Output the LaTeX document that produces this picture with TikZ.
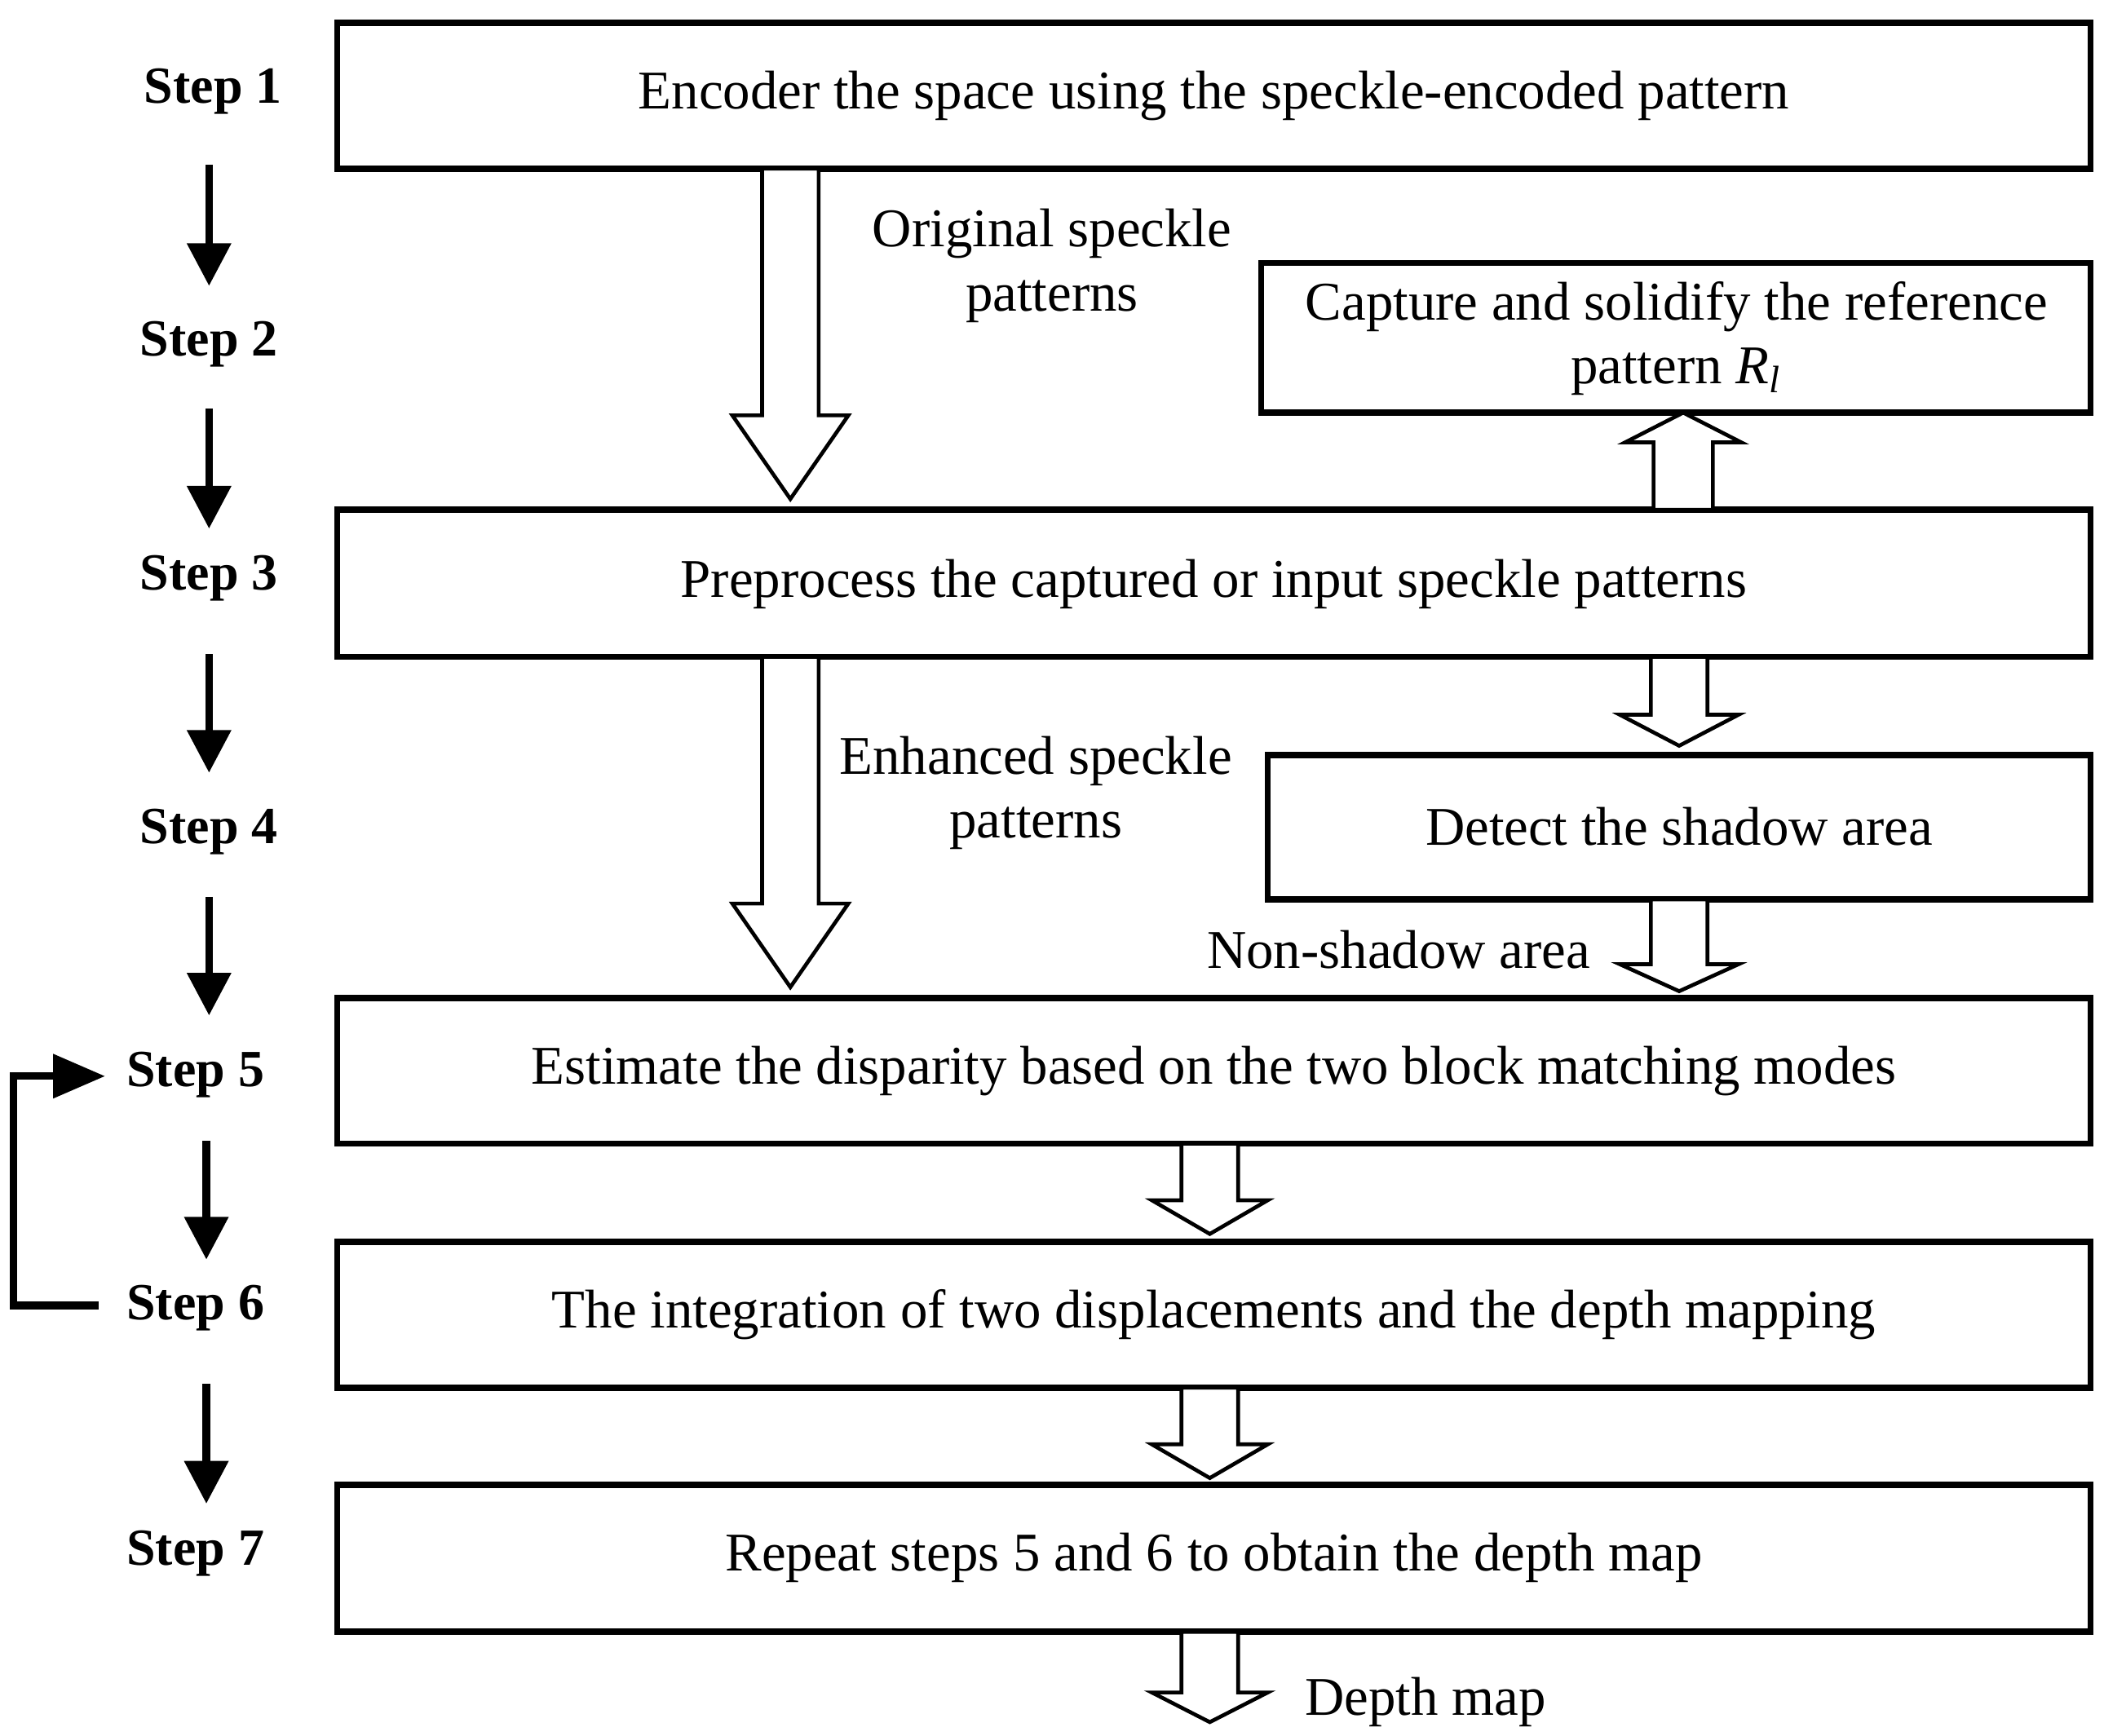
\documentclass[tikz,border=0pt]{standalone}
\usepackage{fontspec}
\setmainfont{Liberation Serif}
\usetikzlibrary{arrows.meta}
\begin{document}
\begin{tikzpicture}[x=0.01cm,y=-0.01cm,
 box/.style={inner sep=0pt,font=\fontsize{11.5}{13.5}\selectfont,align=center},
 steplbl/.style={font=\bfseries\fontsize{11}{12}\selectfont,inner sep=1pt},
 lbl/.style={font=\fontsize{11.5}{13.5}\selectfont,align=center,inner sep=1pt},
 sarr/.style={line width=1.6pt,-{Triangle[length=9pt,width=9pt]}},
 frame/.style={line width=1.3pt},
 hol/.style={draw,line width=0.8pt,fill=white}]
\useasboundingbox (0,0) rectangle (1560,1287);
\newcommand\harrow[6]{%
 \draw[hol] ({#1-#4},#2) -- ({#1-#4},{#3-#6}) -- ({#1-#5},{#3-#6}) -- (#1,#3) -- ({#1+#5},{#3-#6}) -- ({#1+#4},{#3-#6}) -- ({#1+#4},#2) -- cycle;}
\newcommand\uarrow[6]{%
 \draw[hol] ({#1-#4},#2) -- ({#1-#4},{#3+#6}) -- ({#1-#5},{#3+#6}) -- (#1,#3) -- ({#1+#5},{#3+#6}) -- ({#1+#4},{#3+#6}) -- ({#1+#4},#2) -- cycle;}
% boxes
\draw[frame] (250,17) rectangle (1550,125);
\node[box] (b1) at (900,71) {Encoder the space using the speckle-encoded pattern};
\draw[frame] (935,195) rectangle (1550,306);
\node[box] (b2) at (1243,251) {Capture and solidify the reference\\pattern \textit{R}\textsubscript{\textit{l}}};
\draw[frame] (250,378) rectangle (1550,487);
\node[box] (b3) at (900,433) {Preprocess the captured or input speckle patterns};
\draw[frame] (940,560) rectangle (1550,667);
\node[box] (b4) at (1245,613) {Detect the shadow area};
\draw[frame] (250,740) rectangle (1550,848);
\node[box] (b5) at (900,794) {Estimate the disparity based on the two block matching modes};
\draw[frame] (250,921) rectangle (1550,1029);
\node[box] (b6) at (900,975) {The integration of two displacements and the depth mapping};
\draw[frame] (250,1101) rectangle (1550,1210);
\node[box] (b7) at (900,1155) {Repeat steps 5 and 6 to obtain the depth map};
% hollow arrows
\harrow{586}{125}{370}{21}{43}{62}
\harrow{586}{487}{732}{21}{43}{62}
\uarrow{1248}{378}{306}{22}{43}{22}
\harrow{1245}{487}{553}{21}{44}{23}
\harrow{1245}{667}{735}{21}{44}{20}
\harrow{897}{848}{915}{21}{43}{25}
\harrow{897}{1029}{1096}{21}{43}{25}
\harrow{897}{1210}{1277}{21}{43}{22}
% labels
\node[lbl] (l1) at (780,197) {Original speckle\\patterns};
\node[lbl] (l2) at (768,588) {Enhanced speckle\\patterns};
\node[lbl] (l3) at (1037,704) {Non-shadow area};
\node[lbl] (l4) at (1057,1262) {Depth map};
% steps
\node[steplbl] (s1) at (158,68) {Step 1};
\node[steplbl] (s2) at (155,255) {Step 2};
\node[steplbl] (s3) at (155,429) {Step 3};
\node[steplbl] (s4) at (155,617) {Step 4};
\node[steplbl] (s5) at (145,797) {Step 5};
\node[steplbl] (s6) at (145,970) {Step 6};
\node[steplbl] (s7) at (145,1152) {Step 7};
\coordinate (a1) at (155,122); \coordinate (a2) at (155,212);
\coordinate (a3) at (155,303); \coordinate (a4) at (155,392);
\coordinate (a5) at (155,485); \coordinate (a6) at (155,573);
\coordinate (a7) at (155,665); \coordinate (a8) at (155,753);
\coordinate (a9) at (153,846); \coordinate (a10) at (153,934);
\coordinate (a11) at (153,1026); \coordinate (a12) at (153,1115);
\draw[sarr] (a1) -- (a2);
\draw[sarr] (a3) -- (a4);
\draw[sarr] (a5) -- (a6);
\draw[sarr] (a7) -- (a8);
\draw[sarr] (a9) -- (a10);
\draw[sarr] (a11) -- (a12);
\coordinate (f1) at (73,968); \coordinate (f2) at (78,798);
\draw[line width=1.6pt,-{Triangle[length=11pt,width=9pt]}] (f1) -- (10,968) -- (10,798) -- (f2);
\end{tikzpicture}
\end{document}
